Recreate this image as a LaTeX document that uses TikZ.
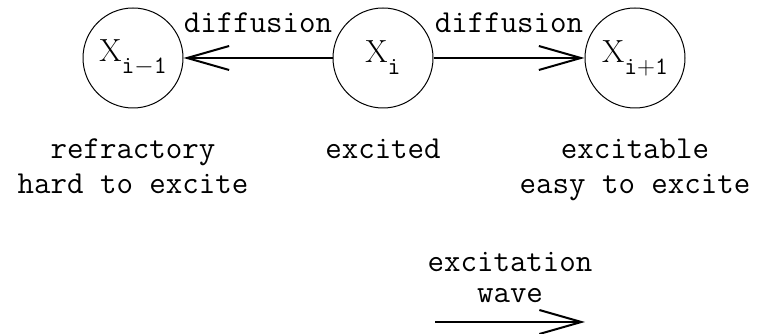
\documentclass[tikz,border=0pt]{standalone}
\usepackage{tikz}
\usetikzlibrary{positioning}
\usetikzlibrary{arrows.meta}
\newcommand{\lowidx}[1]{\raisebox{-12pt}{\fontsize{25}{25}\selectfont\ttfamily #1}}
\tikzset{
	state/.style={circle,draw=black,line width=1pt,minimum size=100pt,inner sep=0pt,
		font=\fontsize{32}{35}\selectfont\rmfamily},
	flow/.style={draw=black,line width=1.2pt,-{Straight Barb[length=42pt,width=24pt,line width=2pt]}},
	tag/.style={inner sep=0pt,font=\fontsize{32}{35}\selectfont\ttfamily,align=center},
}

\begin{document}
\begin{tikzpicture}[x=1pt,y=1pt]
	\useasboundingbox (0,0) rectangle (758,334);
	\node[state] (prev) at (133,276) {X\lowidx{i$-$1}};
	\node[state] (cur) at (383,276) {X\lowidx{i}};
	\node[state] (next) at (635,276) {X\lowidx{i$+$1}};
	\draw[flow] (cur) -- node[tag,midway,above=25pt] {diffusion} (prev);
	\draw[flow] (cur) -- node[tag,midway,above=25pt] {diffusion} (next);
	\node[tag,below=30pt of prev] (prevtxt) {refractory\\hard to excite};
	\node[tag,below=30pt of cur] (curtxt) {excited};
	\node[tag,below=30pt of next] (nexttxt) {excitable\\easy to excite};
	% direction of the wave
	\coordinate (w0) at (435,12);
	\coordinate (w1) at (585,12);
	\draw[flow] (w0) -- node[tag,midway,above=19pt,font=\fontsize{32}{31}\selectfont\ttfamily] (wavetxt) {excitation\\wave} (w1);
\end{tikzpicture}
\end{document}
